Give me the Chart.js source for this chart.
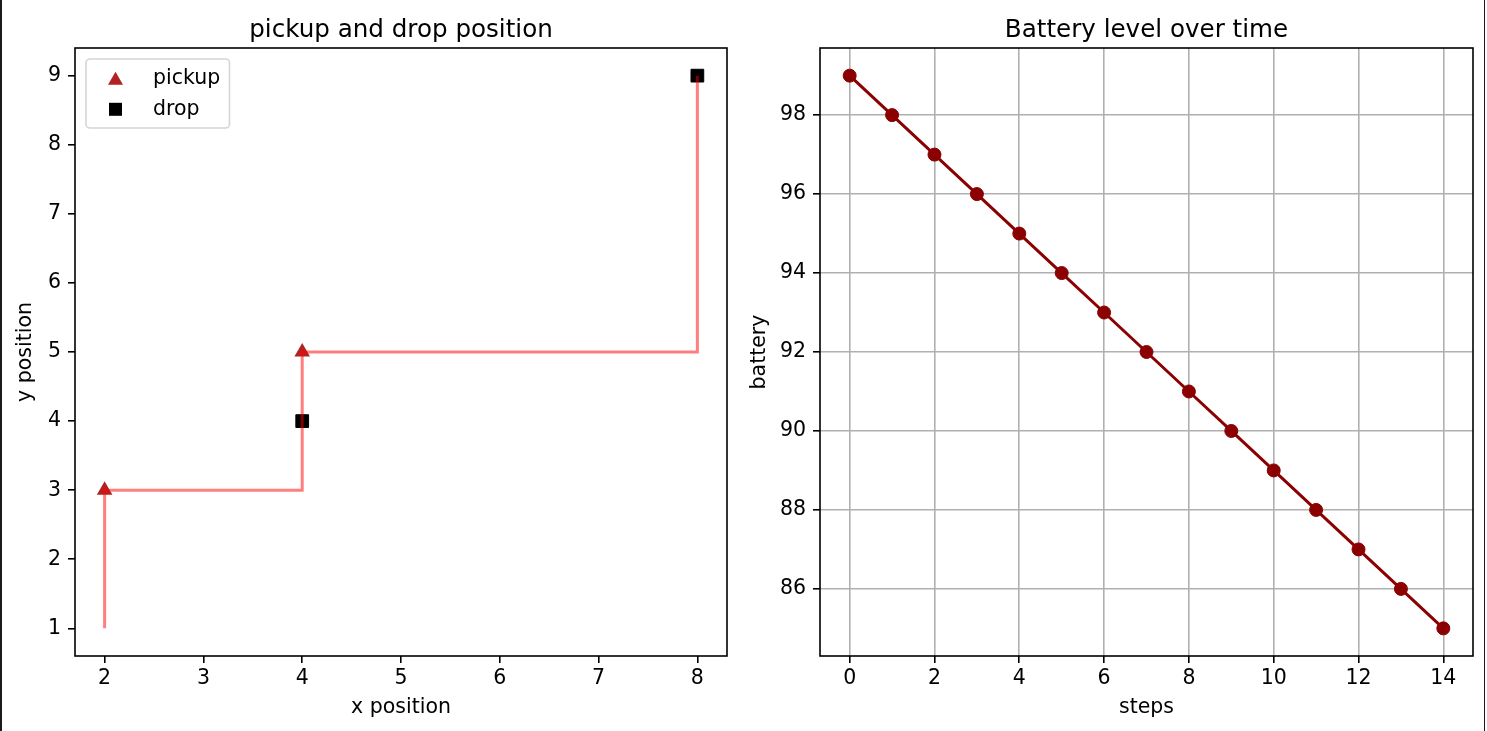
<!DOCTYPE html>
<html>
<head>
<meta charset="utf-8">
<script src="https://cdn.jsdelivr.net/npm/chart.js@4.4.0/dist/chart.umd.min.js"></script>
<style>
html,body{margin:0;padding:0;background:#fff;width:1487px;height:731px;overflow:hidden;}
.cv{position:absolute;top:0;}
.bl{position:absolute;left:0;top:0;width:2px;height:731px;background:#1b1b1b;}
.br{position:absolute;left:1484px;top:0;width:1px;height:731px;background:#1b1b1b;}
</style>
</head>
<body>
<canvas id="ca" class="cv" style="left:0px" width="740" height="731"></canvas>
<canvas id="cb" class="cv" style="left:740px" width="747" height="731"></canvas>
<div class="bl"></div><div class="br"></div>
<script>
// ---- data: left panel ----
const pathX = [2, 2, 4, 4, 8, 8];
const pathY = [1, 3, 3, 5, 5, 9];
const pickupX = [2, 4];
const pickupY = [3, 5];
const dropX = [4, 8];
const dropY = [4, 9];
const leftXTicks = [2, 3, 4, 5, 6, 7, 8];
const leftYTicks = [1, 2, 3, 4, 5, 6, 7, 8, 9];
// ---- data: right panel ----
const steps = [0, 1, 2, 3, 4, 5, 6, 7, 8, 9, 10, 11, 12, 13, 14];
const battery = [99, 98, 97, 96, 95, 94, 93, 92, 91, 90, 89, 88, 87, 86, 85];
const rightXTicks = [0, 2, 4, 6, 8, 10, 12, 14];
const rightYTicks = [86, 88, 90, 92, 94, 96, 98];

const FONT = "'DejaVu Sans', sans-serif";
const FS = 20.5;
const TFS = 24.6;

function pts(xs, ys) { return xs.map((x, i) => ({x: x, y: ys[i]})); }

function axis(min, max, ticks, title, titlePad, fitSize, isX, grid) {
  return {
    type: 'linear', min: min, max: max,
    afterBuildTicks: s => { s.ticks = ticks.map(v => ({value: v})); },
    afterFit: s => { if (isX) s.height = fitSize; else s.width = fitSize; },
    ticks: {
      color: '#000', font: {family: FONT, size: FS}, padding: isX ? 3 : 7,
      autoSkip: false, maxRotation: 0, minRotation: 0,
      callback: v => String(v)
    },
    grid: {
      display: true, drawOnChartArea: grid, color: '#b0b0b0', lineWidth: 1.6,
      drawTicks: true, tickLength: 7, tickColor: '#000', tickWidth: 1.6
    },
    border: {display: false},
    title: {
      display: true, text: title, color: '#000', font: {family: FONT, size: FS},
      padding: isX ? {top: 0, bottom: titlePad} : {top: titlePad, bottom: 0}
    }
  };
}

const decor = {
  id: 'decor',
  afterDatasetsDraw(chart, args, opts) {
    if (!opts.legend) return;
    const a = chart.chartArea, ctx = chart.ctx;
    const bx = a.left + 11, by = a.top + 11, bw = 143.5, bh = 69, r = 4;
    ctx.save();
    ctx.beginPath();
    ctx.moveTo(bx + r, by);
    ctx.lineTo(bx + bw - r, by); ctx.arcTo(bx + bw, by, bx + bw, by + r, r);
    ctx.lineTo(bx + bw, by + bh - r); ctx.arcTo(bx + bw, by + bh, bx + bw - r, by + bh, r);
    ctx.lineTo(bx + r, by + bh); ctx.arcTo(bx, by + bh, bx, by + bh - r, r);
    ctx.lineTo(bx, by + r); ctx.arcTo(bx, by, bx + r, by, r);
    ctx.closePath();
    ctx.fillStyle = 'rgba(255,255,255,0.8)';
    ctx.fill();
    ctx.strokeStyle = '#d5d5d5';
    ctx.lineWidth = 1.6;
    ctx.stroke();
    const items = chart.data.datasets.filter(d => d.inLegend);
    items.forEach((d, i) => {
      const cx = bx + 29.5, cy = by + 19.3 + i * 31;
      ctx.fillStyle = d.backgroundColor;
      ctx.beginPath();
      if (d.pointStyle === 'triangle') {
        ctx.moveTo(cx, cy - 6.5); ctx.lineTo(cx + 7.5, cy + 6.5); ctx.lineTo(cx - 7.5, cy + 6.5);
        ctx.closePath();
      } else {
        ctx.rect(cx - 6.5, cy - 6.5, 13, 13);
      }
      ctx.fill();
      ctx.fillStyle = '#000';
      ctx.font = FS + 'px ' + FONT;
      ctx.textAlign = 'left';
      ctx.textBaseline = 'alphabetic';
      ctx.fillText(d.label, bx + 67, cy + 6);
    });
    ctx.restore();
  },
  afterDraw(chart, args, opts) {
    const a = chart.chartArea, ctx = chart.ctx;
    ctx.save();
    ctx.strokeStyle = '#000';
    ctx.lineWidth = 1.6;
    ctx.strokeRect(a.left, a.top, a.right - a.left, a.bottom - a.top);
    ctx.fillStyle = '#000';
    ctx.font = TFS + 'px ' + FONT;
    ctx.textAlign = 'center';
    ctx.textBaseline = 'alphabetic';
    ctx.fillText(opts.title, (a.left + a.right) / 2, 37);
    ctx.restore();
  }
};

new Chart(document.getElementById('ca'), {
  type: 'scatter',
  data: {
    datasets: [
      {
        label: 'path', type: 'line', data: pts(pathX, pathY),
        borderColor: 'rgba(255,0,0,0.5)', borderWidth: 3, pointRadius: 0,
        fill: false, tension: 0, showLine: true
      },
      {
        label: 'pickup', inLegend: true, data: pts(pickupX, pickupY),
        pointStyle: 'triangle', pointRadius: 9,
        backgroundColor: '#b22222', borderColor: '#b22222', borderWidth: 0
      },
      {
        label: 'drop', inLegend: true, data: pts(dropX, dropY),
        pointStyle: 'rect', pointRadius: 9,
        backgroundColor: '#000000', borderColor: '#000000', borderWidth: 1
      }
    ]
  },
  options: {
    responsive: false, animation: false, events: [],
    layout: {padding: {left: 0, right: 13, top: 48, bottom: 0}},
    scales: {
      x: axis(1.7, 8.3, leftXTicks, 'x position', 10.8, 75, true, false),
      y: axis(0.6, 9.4, leftYTicks, 'y position', 12.9, 75, false, false)
    },
    plugins: {
      legend: {display: false}, tooltip: {enabled: false},
      decor: {title: 'pickup and drop position', legend: true}
    }
  },
  plugins: [decor]
});

new Chart(document.getElementById('cb'), {
  type: 'scatter',
  data: {
    datasets: [
      {
        label: 'battery', data: pts(steps, battery), showLine: true,
        borderColor: '#8b0000', borderWidth: 3, tension: 0,
        pointRadius: 6.5, pointBackgroundColor: '#8b0000', pointBorderColor: '#8b0000', pointBorderWidth: 1
      }
    ]
  },
  options: {
    responsive: false, animation: false, events: [],
    layout: {padding: {left: 0, right: 14, top: 48, bottom: 0}},
    scales: {
      x: axis(-0.7, 14.7, rightXTicks, 'steps', 10.8, 75, true, true),
      y: axis(84.3, 99.7, rightYTicks, 'battery', 6.9, 80, false, true)
    },
    plugins: {
      legend: {display: false}, tooltip: {enabled: false},
      decor: {title: 'Battery level over time', legend: false}
    }
  },
  plugins: [decor]
});
</script>
</body>
</html>
